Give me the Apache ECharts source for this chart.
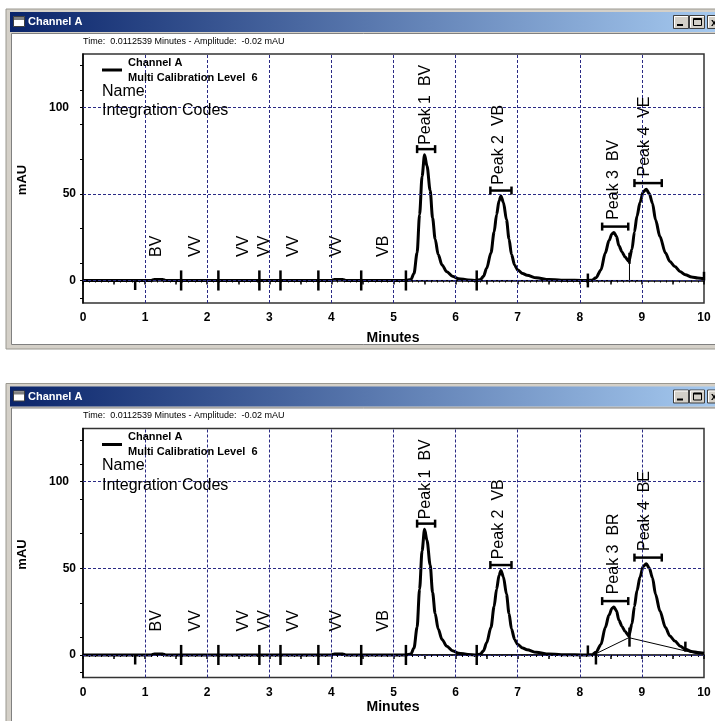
<!DOCTYPE html>
<html><head><meta charset="utf-8">
<script src="https://cdn.jsdelivr.net/npm/echarts@6/dist/echarts.min.js"></script>
<style>html,body{margin:0;padding:0;background:#fff}#c{width:715px;height:721px}</style>
</head><body><div id="c"></div>
<script>
// ---- data ----
const traceTime = [0, 0.5, 1.0, 1.10, 1.15, 1.28, 1.33, 2.0, 3.0, 4.0, 4.05, 4.18, 4.23, 5.0, 5.20, 5.28, 5.33, 5.38, 5.42, 5.46, 5.50, 5.54, 5.59, 5.63, 5.67, 5.72, 5.78, 5.86, 5.95, 6.05, 6.20, 6.34, 6.40, 6.45, 6.50, 6.57, 6.62, 6.66, 6.70, 6.73, 6.77, 6.82, 6.86, 6.90, 6.95, 7.00, 7.08, 7.15, 7.30, 7.50, 7.70, 8.13, 8.20, 8.26, 8.34, 8.41, 8.47, 8.52, 8.55, 8.59, 8.63, 8.68, 8.73, 8.79, 8.84, 8.88, 8.92, 8.97, 9.02, 9.07, 9.12, 9.17, 9.22, 9.29, 9.38, 9.45, 9.53, 9.62, 9.70, 9.80, 9.90, 10.0];
const traceAbs = [0, 0, 0, 0, 0.6, 0.6, 0, 0, 0, 0, 0.6, 0.6, 0, 0, 0, 0.5, 4, 16, 38, 60, 72.5, 66, 52, 36, 24, 15, 9, 5, 2.5, 1, 0.3, 0, 0.5, 2.5, 7, 16, 28, 38, 46, 48.8, 45, 35, 24, 15, 9, 6, 4, 3, 1.5, 0.5, 0.2, 0, 0.2, 1.5, 6, 15.8, 23, 27, 27.7, 25.5, 20, 16.5, 13.5, 11, 18, 28, 37, 45, 51, 52.7, 50, 44.6, 35, 25.4, 15.8, 11, 8, 5, 3.3, 2, 1.4, 1];

const xLabelVals = [0, 1, 2, 3, 4, 5, 6, 7, 8, 9, 10];
const xTickVals = [0, 0.5, 1, 1.5, 2, 2.5, 3, 3.5, 4, 4.5, 5, 5.5, 6, 6.5, 7, 7.5, 8, 8.5, 9, 9.5, 10];
const yLabelVals = [0, 50, 100];
const yTickVals = [-10, 0, 10, 30, 50, 70, 90, 100, 110, 124];
const xGridVals = [1, 2, 3, 4, 5, 6, 7, 8, 9];
const yGridVals = [0, 50, 100];

const codeLabels = ['BV', 'VV', 'VV', 'VV', 'VV', 'VV', 'VB'];
const codeLabelTime = [1.19, 1.81, 2.58, 2.92, 3.39, 4.09, 4.84];
const codeLabelAbs = [13.6, 13.6, 13.6, 13.6, 13.6, 13.6, 13.6];

const peakNamesTop = ['Peak 1  BV', 'Peak 2  VB', 'Peak 3  BV', 'Peak 4  VE'];
const peakNamesBottom = ['Peak 1  BV', 'Peak 2  VB', 'Peak 3  BR', 'Peak 4  BE'];
const peakLabelTime = [5.51, 6.69, 8.54, 9.05];
const peakLabelAbs = [78.3, 55.2, 35, 60];
const bracketStart = [5.38, 6.56, 8.36, 8.88];
const bracketEnd = [5.67, 6.90, 8.78, 9.32];
const bracketAbs = [75.8, 51.9, 31.1, 56.2];

const markTimeTop = [0.84, 1.58, 2.18, 2.84, 3.18, 3.79, 4.48, 5.20, 6.34, 8.13, 8.80, 10.0];
const markLowTop = [-5.5, -5.8, -5.8, -5.8, -5.8, -5.8, -5.8, -5.8, -5.8, -4, 9.6, 0];
const markHighTop = [0, 5.8, 5.8, 5.8, 5.8, 5.8, 5.8, 5.8, 5.8, 4, 16, 5];
const markTimeBottom = [0.84, 1.58, 2.18, 2.84, 3.18, 3.79, 4.48, 5.20, 6.34, 8.13, 8.26, 8.80, 9.70];
const markLowBottom = [-5.5, -5.8, -5.8, -5.8, -5.8, -5.8, -5.8, -5.8, -5.8, 0.5, -5.5, 4.8, 1.9];
const markHighBottom = [0, 5.8, 5.8, 5.8, 5.8, 5.8, 5.8, 5.8, 5.8, 5.5, 1, 15.8, 7.7];

const baseTopTime = [0, 9.05];
const baseTopAbs = [0, 0];
const dropTime = [8.80, 8.80];
const dropAbs = [0, 11];
const baseBottomTime = [0, 8.26];
const baseBottomAbs = [0, 0];
const skimTime = [8.24, 8.79, 9.93];
const skimAbs = [0.4, 10, 0.4];

const yMin = -13, yMax = 130.7;
const timeText = 'Time:  0.0112539 Minutes - Amplitude:  -0.02 mAU';

// ---- chart ----
const FF = '"Liberation Sans", Arial, sans-serif';
const GRID_COLOR = '#2a2a85';
const PANEL_DY = 374.5;

const chart = echarts.init(document.getElementById('c'), null, {renderer: 'canvas'});

function zip(a, b) { return a.map((v, i) => [v, b[i]]); }

function makeAxes(gi) {
  const x = {
    type: 'value', gridIndex: gi, min: 0, max: 10, interval: 1,
    axisLine: {show: true, lineStyle: {color: '#000', width: 1.5}},
    axisTick: {show: true, customValues: xTickVals, length: 4, inside: false, lineStyle: {color: '#000', width: 1.5}},
    minorTick: {show: true, splitNumber: 10, length: 2, lineStyle: {color: '#000', width: 1}},
    axisLabel: {show: true, customValues: xLabelVals, margin: 9, color: '#000', fontFamily: FF, fontWeight: 'bold', fontSize: 12},
    splitLine: {show: false}
  };
  const y = {
    type: 'value', gridIndex: gi, min: yMin, max: yMax,
    axisLine: {show: true, lineStyle: {color: '#000', width: 1.5}},
    axisTick: {show: true, customValues: yTickVals, length: 3, inside: false, lineStyle: {color: '#000', width: 1}},
    axisLabel: {
      show: true, customValues: yLabelVals, margin: 7,
      formatter: v => v === 100 ? '{w|100}' : '{n|' + v + '}',
      rich: {
        w: {padding: [0, 7, 0, 0], color: '#000', fontFamily: FF, fontWeight: 'bold', fontSize: 12},
        n: {color: '#000', fontFamily: FF, fontWeight: 'bold', fontSize: 12}
      }
    },
    splitLine: {show: false}
  };
  return [x, y];
}

function textRenderer(texts) {
  return function (params, api) {
    const p = api.coord([api.value(0), api.value(1)]);
    return {
      type: 'text', x: p[0], y: p[1], rotation: Math.PI / 2,
      style: {text: texts[params.dataIndex], font: '16px ' + FF, fill: '#000', align: 'left', verticalAlign: 'middle'}
    };
  };
}

function panelSeries(gi, peakNames, mT, mL, mH, isBottom) {
  const ax = {xAxisIndex: gi, yAxisIndex: gi};
  const s = [];
  // grid lines
  s.push(Object.assign({
    type: 'line', data: [], silent: true, z: 1,
    markLine: {
      silent: true, symbol: ['none', 'none'], animation: false, label: {show: false},
      lineStyle: {type: [3, 2], color: GRID_COLOR, width: 1},
      data: xGridVals.map(v => ({xAxis: v})).concat(yGridVals.map(v => ({yAxis: v})))
    }
  }, ax));
  // thin integration baselines
  const thin = {type: 'line', showSymbol: false, symbol: 'none', silent: true, z: 3, lineStyle: {color: '#000', width: 1}};
  if (!isBottom) {
    s.push(Object.assign({}, thin, ax, {data: zip(baseTopTime, baseTopAbs)}));
    s.push(Object.assign({}, thin, ax, {data: zip(dropTime, dropAbs)}));
  } else {
    s.push(Object.assign({}, thin, ax, {data: zip(baseBottomTime, baseBottomAbs)}));
    s.push(Object.assign({}, thin, ax, {data: zip(skimTime, skimAbs)}));
  }
  // chromatogram trace
  s.push(Object.assign({
    type: 'line', data: zip(traceTime, traceAbs), showSymbol: false, symbol: 'none',
    smooth: 0.3, smoothMonotone: 'x', silent: true, z: 4,
    lineStyle: {color: '#000', width: 3}
  }, ax));
  // peak start/end markers
  s.push(Object.assign({
    type: 'custom', silent: true, z: 5,
    data: mT.map((t, i) => [t, mL[i], mH[i]]),
    renderItem: (params, api) => {
      const a = api.coord([api.value(0), api.value(1)]);
      const b = api.coord([api.value(0), api.value(2)]);
      return {type: 'line', shape: {x1: a[0], y1: a[1], x2: b[0], y2: b[1]}, style: {stroke: '#000', lineWidth: 2.5}};
    }
  }, ax));
  // retention brackets
  s.push(Object.assign({
    type: 'custom', silent: true, z: 5,
    data: bracketStart.map((t, i) => [t, bracketEnd[i], bracketAbs[i]]),
    renderItem: (params, api) => {
      const a = api.coord([api.value(0), api.value(2)]);
      const b = api.coord([api.value(1), api.value(2)]);
      const st = {stroke: '#000', lineWidth: 2.5};
      return {type: 'group', children: [
        {type: 'line', shape: {x1: a[0], y1: a[1], x2: b[0], y2: b[1]}, style: st},
        {type: 'line', shape: {x1: a[0], y1: a[1] - 4, x2: a[0], y2: a[1] + 4}, style: st},
        {type: 'line', shape: {x1: b[0], y1: b[1] - 4, x2: b[0], y2: b[1] + 4}, style: st}
      ]};
    }
  }, ax));
  // integration code labels
  s.push(Object.assign({
    type: 'custom', silent: true, z: 6,
    data: zip(codeLabelTime, codeLabelAbs),
    renderItem: textRenderer(codeLabels)
  }, ax));
  // peak labels
  s.push(Object.assign({
    type: 'custom', silent: true, z: 6,
    data: zip(peakLabelTime, peakLabelAbs),
    renderItem: textRenderer(peakNames)
  }, ax));
  return s;
}

function windowChrome(dy, h, minutesY) {
  const els = [
    {type: 'rect', z: -10, shape: {x: 6, y: 9 + dy, width: 715, height: h}, style: {fill: '#d4d0c8', stroke: '#9a9890', lineWidth: 1}},
    {type: 'rect', z: -9, shape: {x: 11.5, y: 33.5 + dy, width: 710, height: h - 29}, style: {fill: '#fff', stroke: '#808080', lineWidth: 1}},
    {type: 'rect', z: -9, shape: {x: 10, y: 12 + dy, width: 710, height: 20},
      style: {fill: new echarts.graphic.LinearGradient(0, 0, 1, 0, [{offset: 0, color: '#0a246a'}, {offset: 1, color: '#a6caf0'}])}},
    {type: 'rect', z: -8, shape: {x: 13.5, y: 16.5 + dy, width: 11, height: 10}, style: {fill: '#ffffff', stroke: '#404040', lineWidth: 1}},
    {type: 'rect', z: -8, shape: {x: 14, y: 17 + dy, width: 10, height: 3}, style: {fill: '#808080'}},
    {type: 'text', z: -8, x: 28, y: 22 + dy, style: {text: 'Channel A', font: 'bold 11px ' + FF, fill: '#fff', verticalAlign: 'middle'}},
    {type: 'text', z: -8, x: 83, y: 41.5 + dy, style: {text: timeText, font: '9px ' + FF, fill: '#000', verticalAlign: 'middle'}},
    // legend
    {type: 'line', z: 7, shape: {x1: 102, y1: 70 + dy, x2: 122, y2: 70 + dy}, style: {stroke: '#000', lineWidth: 3}},
    {type: 'text', z: 7, x: 128, y: 62.5 + dy, style: {text: 'Channel A', font: 'bold 11px ' + FF, fill: '#000', verticalAlign: 'middle'}},
    {type: 'text', z: 7, x: 128, y: 77.5 + dy, style: {text: 'Multi Calibration Level  6', font: 'bold 11px ' + FF, fill: '#000', verticalAlign: 'middle'}},
    {type: 'text', z: 7, x: 102, y: 91.5 + dy, style: {text: 'Name', font: '16px ' + FF, fill: '#000', verticalAlign: 'middle'}},
    {type: 'text', z: 7, x: 102, y: 111 + dy, style: {text: 'Integration Codes', font: '16px ' + FF, fill: '#000', verticalAlign: 'middle'}},
    // axis titles
    {type: 'text', z: 7, x: 22, y: 180 + dy, rotation: Math.PI / 2, style: {text: 'mAU', font: 'bold 13px ' + FF, fill: '#000', align: 'center', verticalAlign: 'middle'}},
    {type: 'text', z: 7, x: 393, y: minutesY, style: {text: 'Minutes', font: 'bold 14px ' + FF, fill: '#000', align: 'center', verticalAlign: 'middle'}}
  ];
  const bx = [673, 689, 707];
  bx.forEach(x => {
    els.push({type: 'rect', z: -8, shape: {x: x + 0.5, y: 15.5 + dy, width: 15, height: 13}, style: {fill: '#d4d0c8', stroke: '#404040', lineWidth: 1}});
    els.push({type: 'polyline', z: -8, shape: {points: [[x + 1.5, 27.5 + dy], [x + 1.5, 16.5 + dy], [x + 15, 16.5 + dy]]}, style: {stroke: '#ffffff', lineWidth: 1, fill: null}});
  });
  els.push({type: 'rect', z: -7, shape: {x: 677, y: 24 + dy, width: 6, height: 2}, style: {fill: '#000'}});
  els.push({type: 'rect', z: -7, shape: {x: 693.5, y: 18.5 + dy, width: 8, height: 7}, style: {fill: null, stroke: '#000', lineWidth: 1}});
  els.push({type: 'rect', z: -7, shape: {x: 693.5, y: 18.5 + dy, width: 8, height: 1.5}, style: {fill: '#000'}});
  els.push({type: 'text', z: -7, x: 711, y: 22.5 + dy, style: {text: 'x', font: 'bold 11px ' + FF, fill: '#000', verticalAlign: 'middle'}});
  return els;
}

const axTop = makeAxes(0), axBot = makeAxes(1);

const option = {
  animation: false,
  backgroundColor: '#ffffff',
  grid: [
    {left: 83, top: 54, width: 621, height: 249, show: true, borderColor: '#333', borderWidth: 1.5, backgroundColor: 'transparent', containLabel: false, outerBoundsMode: 'none'},
    {left: 83, top: 54 + PANEL_DY, width: 621, height: 249, show: true, borderColor: '#333', borderWidth: 1.5, backgroundColor: 'transparent', containLabel: false, outerBoundsMode: 'none'}
  ],
  xAxis: [axTop[0], axBot[0]],
  yAxis: [axTop[1], axBot[1]],
  graphic: {elements: windowChrome(0, 340, 338).concat(windowChrome(PANEL_DY, 400, 707))},
  series: panelSeries(0, peakNamesTop, markTimeTop, markLowTop, markHighTop, false)
    .concat(panelSeries(1, peakNamesBottom, markTimeBottom, markLowBottom, markHighBottom, true))
};
chart.setOption(option);
</script>
</body></html>
